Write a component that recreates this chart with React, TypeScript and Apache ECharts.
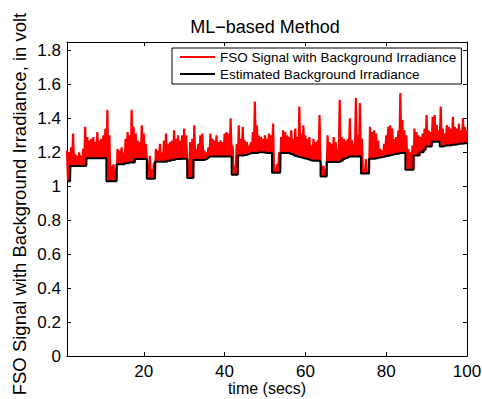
import React, { useEffect, useRef } from 'react';
import * as echarts from 'echarts';

const TIME_START = 1;
const TIME_STEP = 0.5;

const signalPeaks: number[] = [
  1.21, 1.20, 1.23, 1.31, 1.19, 1.18, 1.20, 1.18, 1.22, 1.35,
  1.29, 1.27, 1.28, 1.29, 1.26, 1.32, 1.27, 1.28, 1.30, 1.34,
  1.45, 1.30, 1.12, 1.13, 1.10, 1.22, 1.21, 1.23, 1.20, 1.28,
  1.32, 1.30, 1.45, 1.35, 1.31, 1.27, 1.26, 1.36, 1.31, 1.25,
  1.12, 1.18, 1.10, 1.14, 1.22, 1.21, 1.25, 1.20, 1.27, 1.31,
  1.25, 1.26, 1.27, 1.33, 1.28, 1.30, 1.27, 1.30, 1.34, 1.30,
  1.10, 1.26, 1.28, 1.36, 1.22, 1.25, 1.30, 1.31, 1.21, 1.20,
  1.23, 1.31, 1.28, 1.27, 1.30, 1.26, 1.27, 1.26, 1.31, 1.32,
  1.31, 1.40, 1.24, 1.12, 1.25, 1.36, 1.28, 1.35, 1.27, 1.26,
  1.24, 1.26, 1.32, 1.50, 1.36, 1.30, 1.29, 1.28, 1.30, 1.28,
  1.31, 1.30, 1.37, 1.11, 1.13, 1.20, 1.29, 1.33, 1.32, 1.30,
  1.29, 1.33, 1.28, 1.34, 1.29, 1.47, 1.31, 1.36, 1.30, 1.28,
  1.29, 1.24, 1.28, 1.26, 1.27, 1.42, 1.11, 1.12, 1.10, 1.30,
  1.26, 1.25, 1.29, 1.26, 1.22, 1.51, 1.29, 1.28, 1.27, 1.28,
  1.40, 1.27, 1.25, 1.52, 1.30, 1.49, 1.28, 1.10, 1.16, 1.09,
  1.35, 1.32, 1.33, 1.31, 1.27, 1.22, 1.21, 1.25, 1.30, 1.35,
  1.36, 1.34, 1.28, 1.29, 1.33, 1.55, 1.39, 1.33, 1.30, 1.22,
  1.20, 1.24, 1.34, 1.32, 1.30, 1.29, 1.31, 1.34, 1.42, 1.33,
  1.32, 1.41, 1.42, 1.36, 1.33, 1.47, 1.34, 1.31, 1.36, 1.35,
  1.34, 1.41, 1.35, 1.34, 1.37, 1.33, 1.40, 1.35, 1.33,
];

const backgroundLevel: number[] = [
  1.03, 1.03,
  1.12, 1.12, 1.12, 1.12, 1.12, 1.12, 1.12, 1.12,
  1.165, 1.165, 1.165, 1.165, 1.165, 1.165, 1.165, 1.165, 1.165, 1.165,
  1.03, 1.03, 1.03, 1.03, 1.03,
  1.13, 1.13, 1.13, 1.13, 1.135, 1.135, 1.14, 1.14, 1.14,
  1.16, 1.16, 1.16, 1.16, 1.16, 1.16,
  1.045, 1.045, 1.045, 1.045,
  1.145, 1.145, 1.145, 1.145, 1.145, 1.145, 1.15, 1.15, 1.155, 1.155, 1.16, 1.16, 1.16, 1.162, 1.162, 1.162,
  1.048, 1.048, 1.048,
  1.155, 1.155, 1.155, 1.155, 1.155, 1.156, 1.16, 1.17, 1.175, 1.175, 1.175, 1.176, 1.176, 1.176, 1.176, 1.176, 1.176, 1.176, 1.176,
  1.068, 1.068, 1.068,
  1.182, 1.182, 1.182, 1.184, 1.186, 1.19, 1.195, 1.196, 1.196, 1.196, 1.2, 1.2, 1.2, 1.198, 1.196, 1.196, 1.196,
  1.08, 1.08, 1.08, 1.08,
  1.196, 1.196, 1.196, 1.196, 1.196, 1.19, 1.186, 1.18, 1.176, 1.172, 1.17, 1.166, 1.163, 1.16, 1.156, 1.152, 1.15, 1.15, 1.15, 1.15,
  1.058, 1.058, 1.058,
  1.143, 1.143, 1.143, 1.143, 1.143, 1.143, 1.145, 1.15, 1.16, 1.165, 1.17, 1.176, 1.176, 1.176, 1.176, 1.176, 1.176,
  1.075, 1.075, 1.075, 1.075,
  1.162, 1.162, 1.162, 1.165, 1.168, 1.17, 1.172, 1.175, 1.178, 1.18, 1.183, 1.186, 1.188, 1.19, 1.193, 1.196, 1.196, 1.196,
  1.097, 1.097, 1.097, 1.097,
  1.181, 1.181, 1.181, 1.2, 1.2, 1.215,
  1.235, 1.235, 1.235,
  1.262, 1.262, 1.262, 1.262,
  1.235, 1.235, 1.238, 1.24, 1.24, 1.242, 1.245, 1.245, 1.247, 1.25, 1.25, 1.252, 1.254, 1.254,
];

const xTicks = [20, 40, 60, 80, 100];
const yTicks = [0, 0.2, 0.4, 0.6, 0.8, 1, 1.2, 1.4, 1.6, 1.8];
const seriesNames = ['FSO Signal with Background Irradiance', 'Estimated Background Irradiance'];
const titleText = 'ML\u2212based Method';
const xName = 'time (secs)';
const yName = 'FSO Signal with Background Irradiance, in volt';

const FONT = '"Liberation Sans", Arial, Helvetica, sans-serif';
// legend icon: a horizontal stroke centred in a 35x14 box
const LINE_ICON = 'path://M0,0 M0,6 L35,6 L35,8 L0,8 Z M35,14';

export default function App() {
  const ref = useRef<HTMLDivElement>(null);

  useEffect(() => {
    if (!ref.current) return;
    const chart = echarts.init(ref.current, null, { renderer: 'svg' });

    const times = backgroundLevel.map((_, i) => TIME_START + i * TIME_STEP);
    const redData: number[][] = [];
    signalPeaks.forEach((p, i) => {
      redData.push([times[i], p]);
      if (i < signalPeaks.length - 1) {
        redData.push([times[i] + TIME_STEP / 2, backgroundLevel[i]]);
      }
    });
    const blackData = times.map((t, i) => [t, backgroundLevel[i]]);

    const axisLine = { show: true, onZero: false, lineStyle: { color: '#000', width: 1 } };
    const tickLabel = { color: '#000', fontSize: 17, fontFamily: FONT, lineHeight: 15 };

    chart.setOption({
      animation: false,
      backgroundColor: '#fff',
      grid: { left: 67, right: 15, top: 42, bottom: 43, containLabel: false, outerBoundsMode: 'none' },
      xAxis: [
        {
          type: 'value', min: 1, max: 100, position: 'bottom',
          axisLine,
          axisTick: { show: true, inside: true, length: 4, customValues: xTicks, lineStyle: { color: '#000' } },
          axisLabel: { ...tickLabel, customValues: xTicks, margin: 8 },
          splitLine: { show: false },
          name: xName, nameLocation: 'middle', nameGap: 25, nameMoveOverlap: false,
          nameTextStyle: { color: '#000', fontSize: 16, fontFamily: FONT, lineHeight: 15 },
        },
        {
          type: 'value', min: 1, max: 100, position: 'top',
          axisLine,
          axisTick: { show: true, inside: true, length: 4, customValues: xTicks, lineStyle: { color: '#000' } },
          axisLabel: { show: false },
          splitLine: { show: false },
        },
      ],
      yAxis: [
        {
          type: 'value', min: 0, max: 1.85, position: 'left',
          axisLine,
          axisTick: { show: true, inside: true, length: 4, customValues: yTicks, lineStyle: { color: '#000' } },
          axisLabel: { ...tickLabel, customValues: yTicks, margin: 6, formatter: (v: number) => String(v) },
          splitLine: { show: false },
        },
        {
          type: 'value', min: 0, max: 1.85, position: 'right',
          axisLine,
          axisTick: { show: true, inside: true, length: 4, customValues: yTicks, lineStyle: { color: '#000' } },
          axisLabel: { show: false },
          splitLine: { show: false },
        },
      ],
      legend: {
        data: [
          { name: seriesNames[0], icon: LINE_ICON, itemStyle: { color: '#ff0000' } },
          { name: seriesNames[1], icon: LINE_ICON, itemStyle: { color: '#000' } },
        ],
        orient: 'vertical',
        left: 172,
        top: 48,
        itemWidth: 35,
        itemHeight: 14,
        itemGap: 3,
        padding: [2, 5, 3, 8],
        borderColor: '#000',
        borderWidth: 1,
        backgroundColor: '#fff',
        selectedMode: false,
        textStyle: { color: '#000', fontSize: 13.5, fontFamily: FONT },
      },
      graphic: [
        {
          type: 'text', x: 265, y: 27,
          style: {
            text: titleText, font: `18px ${FONT}`, fill: '#000',
            align: 'center', verticalAlign: 'middle', textAlign: 'center', textVerticalAlign: 'middle',
          },
        },
        {
          type: 'text', x: 19, y: 204, rotation: Math.PI / 2,
          style: {
            text: yName, font: `18.5px ${FONT}`, fill: '#000',
            align: 'center', verticalAlign: 'middle', textAlign: 'center', textVerticalAlign: 'middle',
          },
        },
      ],
      series: [
        {
          name: seriesNames[0], type: 'line', data: redData,
          xAxisIndex: 0, yAxisIndex: 0,
          symbol: 'none', showSymbol: false,
          lineStyle: { color: '#ff0000', width: 2.2 },
          itemStyle: { color: '#ff0000' },
          silent: true,
        },
        {
          name: seriesNames[1], type: 'line', data: blackData,
          xAxisIndex: 0, yAxisIndex: 0,
          symbol: 'none', showSymbol: false, step: 'middle',
          lineStyle: { color: '#000', width: 2 },
          itemStyle: { color: '#000' },
          silent: true,
        },
      ],
    });

    return () => chart.dispose();
  }, []);

  return (
    <div
      ref={ref}
      style={{ position: 'fixed', left: 0, top: 0, width: 482, height: 399, background: '#fff' }}
    />
  );
}
